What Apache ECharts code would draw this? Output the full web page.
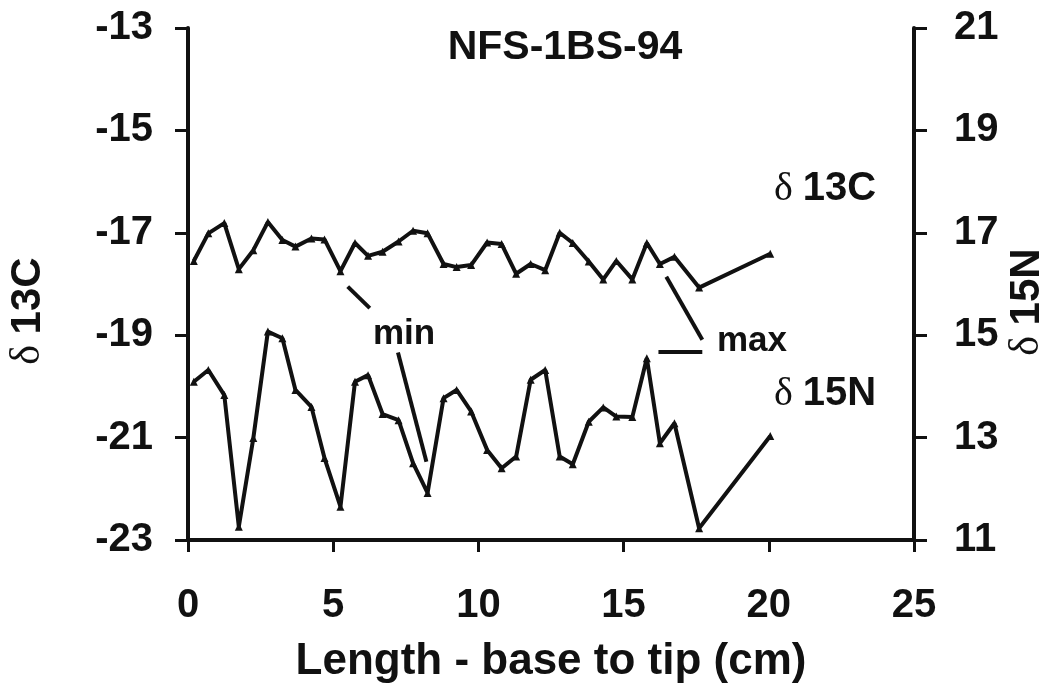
<!DOCTYPE html>
<html>
<head>
<meta charset="UTF-8">
<title>NFS-1BS-94</title>
<script src="https://cdn.jsdelivr.net/npm/echarts@6/dist/echarts.min.js"></script>
<style>
  html, body { margin: 0; padding: 0; background: #fff; }
  #chart { width: 1059px; height: 691px; }
</style>
</head>
<body>
<div id="chart"></div>
<script>
// sample position along the hair/horn, cm
var lengthCm = [0.2, 0.7, 1.25, 1.75, 2.25, 2.75, 3.25, 3.7, 4.25, 4.7,
                5.25, 5.75, 6.2, 6.7, 7.25, 7.75, 8.25, 8.8, 9.25, 9.75,
                10.3, 10.8, 11.3, 11.8, 12.3, 12.8, 13.25, 13.8, 14.3, 14.75,
                15.3, 15.8, 16.25, 16.75, 17.6, 20.05];

// delta 13C (left axis)
var d13C = [-17.55, -17.01, -16.81, -17.71, -17.34, -16.79, -17.14, -17.27, -17.11, -17.13,
            -17.75, -17.2, -17.45, -17.37, -17.17, -16.96, -17.01, -17.61, -17.67, -17.63,
            -17.19, -17.22, -17.8, -17.61, -17.73, -17.0, -17.2, -17.56, -17.91, -17.55,
            -17.91, -17.2, -17.61, -17.47, -18.07, -17.41];

// delta 15N (right axis)
var d15N = [14.09, 14.32, 13.83, 11.26, 12.99, 15.07, 14.94, 13.93, 13.6, 12.6,
            11.65, 14.09, 14.22, 13.46, 13.34, 12.5, 11.92, 13.77, 13.93, 13.51,
            12.76, 12.4, 12.63, 14.13, 14.32, 12.63, 12.48, 13.31, 13.59, 13.41,
            13.4, 14.55, 12.89, 13.28, 11.23, 13.03];

var xTicks = [0, 5, 10, 15, 20, 25];
var leftTicks = [-23, -21, -19, -17, -15, -13];
var rightTicks = [11, 13, 15, 17, 19, 21];

function pairs(xs, ys) {
  return xs.map(function (x, i) { return [x, ys[i]]; });
}

var sans = '"Liberation Sans", Arial, sans-serif';
var serif = '"Liberation Serif", "Times New Roman", serif';
var ink = '#111';
var tickFont = { color: ink, fontSize: 40, fontWeight: 'bold', fontFamily: sans };

function deltaLabel(iso, size) {
  return {
    text: '{d|δ }{t|' + iso + '}',
    rich: {
      d: { fill: ink, font: size + 'px ' + serif },
      t: { fill: ink, font: 'bold ' + size + 'px ' + sans }
    }
  };
}

var chart = echarts.init(document.getElementById('chart'));
chart.setOption({
  backgroundColor: '#fff',
  animation: false,
  grid: { left: 188, right: 145, top: 28, bottom: 151 },
  title: {
    text: 'NFS-1BS-94',
    left: 560, top: 22, textAlign: 'center',
    textStyle: { color: ink, fontSize: 41, fontWeight: 'bold', fontFamily: sans }
  },
  xAxis: {
    type: 'value', min: xTicks[0], max: xTicks[xTicks.length - 1], interval: 5,
    name: 'Length - base to tip (cm)', nameLocation: 'middle', nameGap: 100,
    nameTextStyle: { color: ink, fontSize: 44, fontWeight: 'bold', fontFamily: sans },
    axisLine: { lineStyle: { color: ink, width: 4 } },
    axisTick: { inside: false, length: 12, lineStyle: { color: ink, width: 3 } },
    axisLabel: Object.assign({ margin: 46 }, tickFont),
    splitLine: { show: false }
  },
  yAxis: [{
    type: 'value', position: 'left', min: leftTicks[0], max: leftTicks[leftTicks.length - 1], interval: 2,
    axisLine: { show: true, lineStyle: { color: ink, width: 4 } },
    axisTick: { show: true, length: 13, lineStyle: { color: ink, width: 3 } },
    axisLabel: Object.assign({ margin: 35 }, tickFont),
    splitLine: { show: false }
  }, {
    type: 'value', position: 'right', min: rightTicks[0], max: rightTicks[rightTicks.length - 1], interval: 2,
    axisLine: { show: true, lineStyle: { color: ink, width: 4 } },
    axisTick: { show: true, length: 13, lineStyle: { color: ink, width: 3 } },
    axisLabel: Object.assign({ margin: 40 }, tickFont),
    splitLine: { show: false }
  }],
  series: [{
    name: 'd13C', type: 'line', yAxisIndex: 0,
    data: pairs(lengthCm, d13C),
    symbol: 'triangle', symbolSize: 8,
    lineStyle: { color: ink, width: 4 },
    itemStyle: { color: ink },
    markLine: {
      silent: true, symbol: 'none', label: { show: false },
      lineStyle: { color: ink, width: 4, type: 'solid' },
      data: [
        [{ coord: [5.5, -18.05] }, { coord: [6.26, -18.47] }],
        [{ coord: [7.23, -19.34] }, { coord: [8.21, -21.47] }],
        [{ coord: [16.47, -17.86] }, { coord: [17.71, -19.09] }],
        [{ coord: [16.2, -19.32] }, { coord: [17.71, -19.32] }]
      ]
    }
  }, {
    name: 'd15N', type: 'line', yAxisIndex: 1,
    data: pairs(lengthCm, d15N),
    symbol: 'triangle', symbolSize: 8,
    lineStyle: { color: ink, width: 4 },
    itemStyle: { color: ink }
  }],
  graphic: [
    { type: 'text', x: 404, y: 334,
      style: { text: 'min', fill: ink, align: 'center', verticalAlign: 'middle', font: 'bold 35px ' + sans } },
    { type: 'text', x: 752, y: 341,
      style: { text: 'max', fill: ink, align: 'center', verticalAlign: 'middle', font: 'bold 35px ' + sans } },
    { type: 'text', x: 825, y: 189,
      style: Object.assign({ align: 'center', verticalAlign: 'middle' }, deltaLabel('13C', 40)) },
    { type: 'text', x: 825, y: 394,
      style: Object.assign({ align: 'center', verticalAlign: 'middle' }, deltaLabel('15N', 40)) },
    { type: 'text', x: 28, y: 311, rotation: Math.PI / 2,
      style: Object.assign({ align: 'center', verticalAlign: 'middle' }, deltaLabel('13C', 42)) },
    { type: 'text', x: 1027, y: 302, rotation: Math.PI / 2,
      style: Object.assign({ align: 'center', verticalAlign: 'middle' }, deltaLabel('15N', 42)) }
  ]
});
</script>
</body>
</html>
